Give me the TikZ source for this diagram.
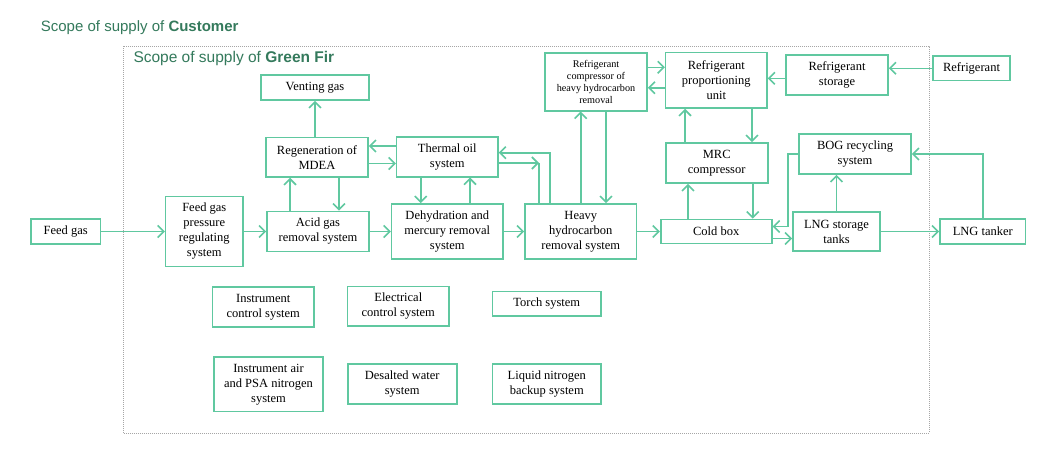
\documentclass[tikz,border=0pt]{standalone}
\usepackage{fontspec}
\setmainfont{Liberation Serif}
\newfontfamily\titlefont{Liberation Sans}
\usetikzlibrary{arrows.meta}
\definecolor{BoxGreen}{RGB}{96,200,160}
\definecolor{TitleGreen}{RGB}{52,122,92}
\colorlet{ScopeGray}{gray!70}

\begin{document}
\begin{tikzpicture}[x=1pt,y=-1pt,
        unit/.style={draw=BoxGreen,line width=1.6pt,align=center,inner sep=1pt,font=\fontsize{12.5}{15}\selectfont},
        boxsize/.style 2 args={minimum width=#1pt,minimum height=#2pt},
        small/.style={font=\fontsize{10.2}{12}\selectfont},
        flow/.style={draw=BoxGreen,line width=1.6pt,-{Straight Barb[length=6pt,width=12pt]}},
        plain/.style={draw=BoxGreen,line width=1.6pt},
        scopetitle/.style={anchor=base west,inner sep=0pt,text=TitleGreen}]
                \useasboundingbox[fill=white] (0,0) rectangle (1060,466);
                \draw[ScopeGray,line width=0.8pt,dash pattern=on 0.8pt off 1.2pt] (123,46) rectangle (929,433);
                \node[scopetitle,font=\titlefont\fontsize{15}{17}\selectfont] (customer) at (40.7,31.7) {Scope of supply of \textbf{Customer}};
                \node[scopetitle,font=\titlefont\fontsize{15.5}{18}\selectfont] (greenfir) at (133.3,62.7) {Scope of supply of \textbf{Green Fir}};

                % main gas line
                \node[unit,boxsize={69.5}{24.5}] (feed) at (65.7,231.5) {Feed gas};
                \node[unit,boxsize={77.3}{70.3}] (pressure) at (204.3,231.5) {Feed gas\\pressure\\regulating\\system};
                \node[unit,boxsize={102}{40}] (acid) at (318,231.5) {Acid gas\\removal system};
                \node[unit,boxsize={111.3}{55}] (dehyd) at (447.3,231.5) {Dehydration and\\mercury removal\\system};
                \node[unit,boxsize={111.7}{55}] (heavy) at (580.8,231.5) {Heavy\\hydrocarbon\\removal system};
                \node[unit,boxsize={111}{24}] (cold) at (716.2,231.5) {Cold box};
                \node[unit,boxsize={87}{39}] (lngst) at (836.5,231.5) {LNG storage\\tanks};
                \node[unit,boxsize={85.7}{25}] (tanker) at (982.8,231.5) {LNG tanker};

                \node[unit,boxsize={108}{25}] (vent) at (315,87.5) {Venting gas};
                \node[unit,boxsize={102}{39.3}] (regen) at (317,157.3) {Regeneration of\\MDEA};
                \node[unit,boxsize={101.3}{40}] (thermal) at (447.3,156.7) {Thermal oil\\system};
                \node[unit,small,boxsize={102}{58}] (refcomp) at (596,81.7) {Refrigerant\\compressor of\\heavy hydrocarbon\\removal};
                \node[unit,boxsize={101.3}{55.3}] (refprop) at (716.3,80.3) {Refrigerant\\proportioning\\unit};
                \node[unit,boxsize={102}{40}] (mrc) at (716.7,163) {MRC\\compressor};
                \node[unit,boxsize={102}{40}] (refstore) at (837,75) {Refrigerant\\storage};
                \node[unit,boxsize={77}{24.7}] (refrig) at (971.5,68.3) {Refrigerant};
                \node[unit,boxsize={112}{40}] (bog) at (855,154) {BOG recycling\\system};

                % utilities
                \node[unit,boxsize={101.3}{40}] (instctl) at (263.3,307) {Instrument\\control system};
                \node[unit,boxsize={101.3}{39.3}] (elec) at (398.3,306.3) {Electrical\\control system};
                \node[unit,boxsize={108.3}{24.3}] (torch) at (546.8,303.8) {Torch system};
                \node[unit,boxsize={109}{54.7}] (instair) at (268.5,384.3) {Instrument air\\and PSA nitrogen\\system};
                \node[unit,boxsize={109}{40}] (desalt) at (402.2,384) {Desalted water\\system};
                \node[unit,boxsize={108.3}{40}] (lin) at (546.8,384) {Liquid nitrogen\\backup system};

                \draw[flow] (feed.east) -- (pressure.west);
                \draw[flow] (pressure.east) -- (acid.west);
                \draw[flow] (acid.east) -- (dehyd.west);
                \draw[flow] (dehyd.east) -- (heavy.west);
                \draw[flow] (heavy.east) -- (cold.west);
                \draw[flow] (lngst.east) -- (tanker.west);
                \draw[flow] (cold.east |- 0,238.5) -- (lngst.west |- 0,238.5);

                \draw[flow] (acid.north -| 290,0) -- (regen.south -| 290,0);
                \draw[flow] (regen.south -| 339,0) -- (acid.north -| 339,0);
                \draw[flow] (regen.north -| vent.south) -- (vent.south);
                \draw[flow] (thermal.west |- 0,146) -- (regen.east |- 0,146);
                \draw[flow] (regen.east |- 0,163.5) -- (thermal.west |- 0,163.5);
                \draw[flow] (thermal.south -| 420.7,0) -- (dehyd.north -| 420.7,0);
                \draw[flow] (dehyd.north -| 470,0) -- (thermal.south -| 470,0);

                \draw[flow] (heavy.north -| 550,0) |- (thermal.east |- 0,152.7);
                \coordinate (oilturn) at (539,163);
                \draw[flow] (thermal.east |- oilturn) -- (oilturn);
                \draw[plain] (oilturn) -- (heavy.north -| oilturn);

                \draw[flow] (heavy.north -| 580.7,0) -- (refcomp.south -| 580.7,0);
                \draw[flow] (refcomp.south -| 606,0) -- (heavy.north -| 606,0);
                \draw[flow] (refcomp.east |- 0,67.3) -- (refprop.west |- 0,67.3);
                \draw[flow] (refprop.west |- 0,87.7) -- (refcomp.east |- 0,87.7);
                \draw[flow] (refstore.west |- 0,78.3) -- (refprop.east |- 0,78.3);
                \draw[flow] (refrig.west) -- (refrig.west -| refstore.east);

                \draw[flow] (mrc.north -| 685,0) -- (refprop.south -| 685,0);
                \draw[flow] (refprop.south -| 752,0) -- (mrc.north -| 752,0);
                \draw[flow] (cold.north -| 688,0) -- (mrc.south -| 688,0);
                \draw[flow] (mrc.south -| 752.7,0) -- (cold.north -| 752.7,0);

                \draw[flow] (bog.west) -| (788,226.5) -- (cold.east |- 0,226.5);
                \draw[flow] (lngst.north) -- (lngst.north |- bog.south);
                \draw[flow] (tanker.north) |- (bog.east);
\end{tikzpicture}
\end{document}
